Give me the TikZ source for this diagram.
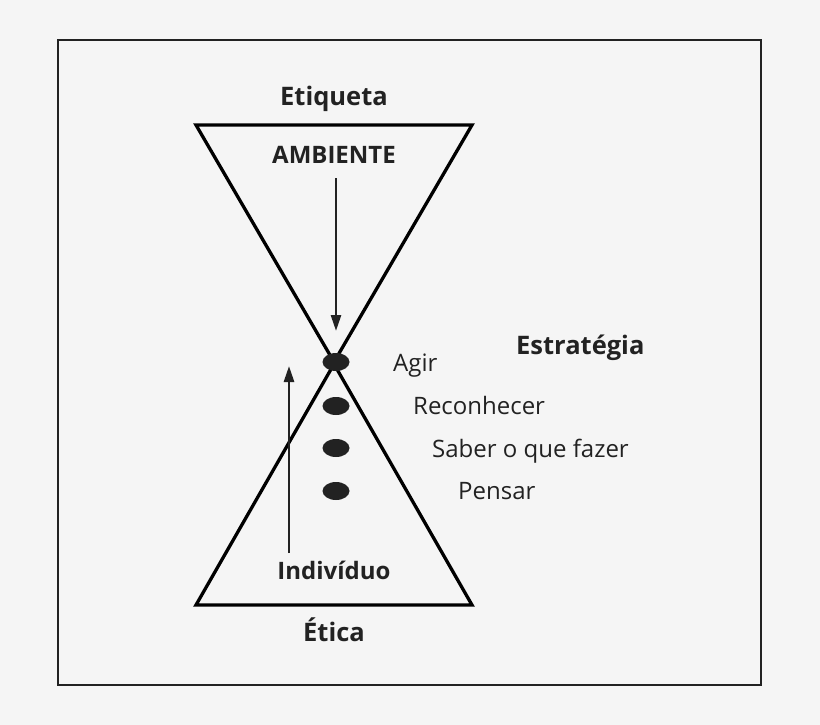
\documentclass[tikz,border=0pt]{standalone}
\usepackage{fontspec}
\setmainfont{Open Sans}
\usetikzlibrary{arrows.meta,shapes.geometric}
\definecolor{bg}{HTML}{F5F5F5}
\definecolor{ink}{HTML}{222222}
\begin{document}
\begin{tikzpicture}[x=1pt,y=-1pt,
  lbl/.style={font=\fontsize{24}{28}\selectfont, text=ink, inner sep=0pt, anchor=base west},
  blbl/.style={font=\fontsize{25.5}{30}\selectfont\bfseries, text=ink, inner sep=0pt, anchor=base},
  sblbl/.style={font=\fontsize{24}{28}\selectfont\bfseries, text=ink, inner sep=0pt, anchor=base},
  dot/.style={ellipse, fill=ink, minimum width=27pt, minimum height=18pt, inner sep=0pt},
  tri/.style={draw=black, line width=3.3pt, line join=miter},
  arr/.style={draw=ink, line width=2.6pt, -{Triangle[length=16pt,width=10pt]}}]
\fill[bg] (0,0) rectangle (820,725);
\useasboundingbox (0,0) rectangle (820,725);
\draw[ink, line width=2pt] (58,40) rectangle (761,685);
\draw[tri] (196,125) -- (472,125) -- (334,362) -- cycle;
\draw[tri] (196,605) -- (472,605) -- (334,364) -- cycle;
\node[dot] (d1) at (336,362) {};
\node[dot] (d2) at (336,406) {};
\node[dot] (d3) at (336,448) {};
\node[dot] (d4) at (336,491) {};
\node[blbl] (etiq) at (334,106) {Etiqueta};
\node[sblbl] (amb) at (334,163) {AMBIENTE};
\node[sblbl] (ind) at (334,579) {Indivíduo};
\node[blbl] (etica) at (334,641) {Ética};
\node[blbl, anchor=base west] (estr) at (516,354) {Estratégia};
\node[lbl] (agir) at (393,371) {Agir};
\node[lbl] (rec) at (413,414) {Reconhecer};
\node[lbl] (sab) at (432,457) {Saber o que fazer};
\node[lbl] (pen) at (458,499) {Pensar};
\coordinate (a1s) at (336,178);
\coordinate (a1e) at (336,331);
\coordinate (a2s) at (289,553);
\coordinate (a2e) at (289,366);
\draw[arr] (a1s) -- (a1e);
\draw[arr] (a2s) -- (a2e);
\end{tikzpicture}
\end{document}
